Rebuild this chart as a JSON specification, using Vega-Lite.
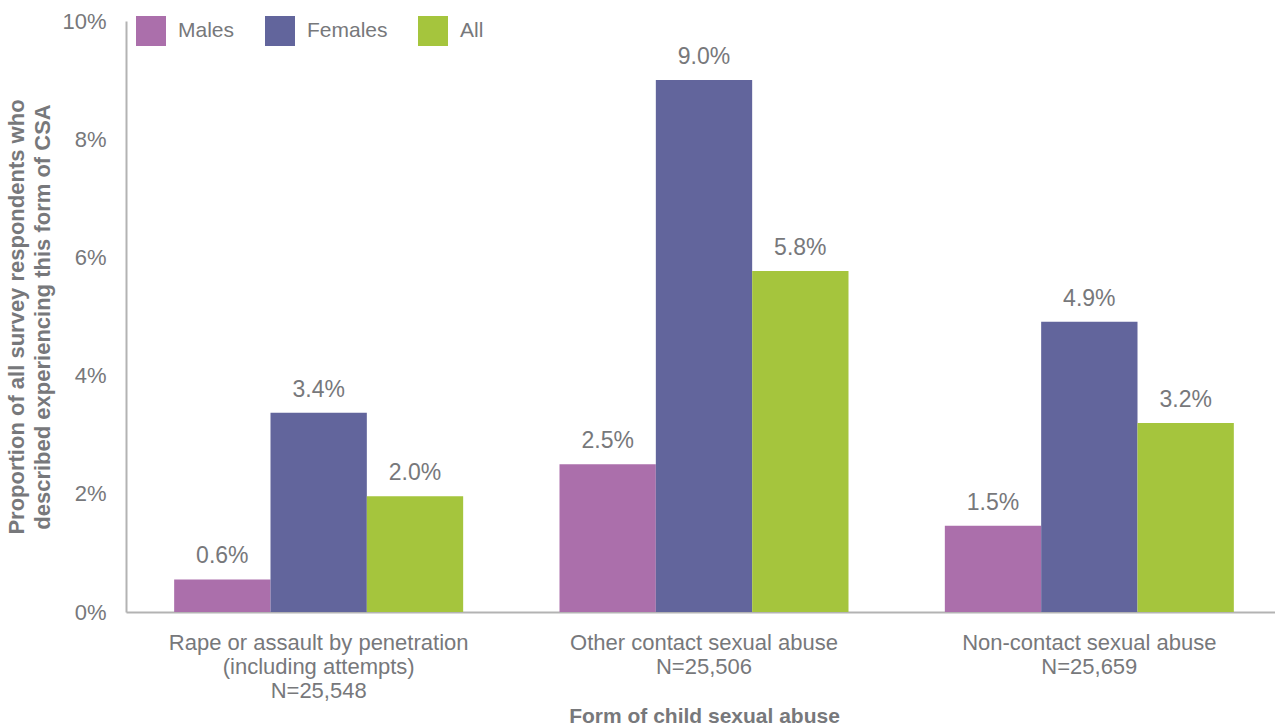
{
  "$schema": "https://vega.github.io/schema/vega-lite/v6.json",
  "width": 1149,
  "height": 591,
  "autosize": {"type": "none"},
  "padding": {"left": 126, "top": 21, "right": 0, "bottom": 116},
  "background": "white",
  "config": {
    "font": "Liberation Sans",
    "view": {"stroke": null}
  },
  "data": {
    "values": [
      {"form": "Rape or assault by penetration|(including attempts)|N=25,548", "group": "Males", "value": 0.55, "label": "0.6%"},
      {"form": "Rape or assault by penetration|(including attempts)|N=25,548", "group": "Females", "value": 3.37, "label": "3.4%"},
      {"form": "Rape or assault by penetration|(including attempts)|N=25,548", "group": "All", "value": 1.96, "label": "2.0%"},
      {"form": "Other contact sexual abuse|N=25,506", "group": "Males", "value": 2.5, "label": "2.5%"},
      {"form": "Other contact sexual abuse|N=25,506", "group": "Females", "value": 9.0, "label": "9.0%"},
      {"form": "Other contact sexual abuse|N=25,506", "group": "All", "value": 5.77, "label": "5.8%"},
      {"form": "Non-contact sexual abuse|N=25,659", "group": "Males", "value": 1.46, "label": "1.5%"},
      {"form": "Non-contact sexual abuse|N=25,659", "group": "Females", "value": 4.91, "label": "4.9%"},
      {"form": "Non-contact sexual abuse|N=25,659", "group": "All", "value": 3.2, "label": "3.2%"}
    ]
  },
  "encoding": {
    "x": {
      "field": "form",
      "type": "nominal",
      "sort": null,
      "scale": {"range": [0, 1156], "paddingInner": 0.25, "paddingOuter": 0.125},
      "axis": {
        "title": "Form of child sexual abuse",
        "titleFontSize": 21,
        "titleFontWeight": "bold",
        "titleColor": "#77787b",
        "titlePadding": 4,
        "labelExpr": "split(datum.label, '|')",
        "labelAngle": 0,
        "labelLimit": 0,
        "labelFontSize": 22,
        "labelColor": "#77787b",
        "labelLineHeight": 24,
        "labelPadding": 20,
        "ticks": false,
        "domainColor": "#b3b3b3",
        "domainWidth": 2,
        "grid": false
      }
    },
    "xOffset": {"field": "group", "type": "nominal", "sort": ["Males", "Females", "All"]},
    "y": {
      "field": "value",
      "type": "quantitative",
      "scale": {"domain": [0, 10]},
      "axis": {
        "title": ["Proportion of all survey respondents who", "described experiencing this form of CSA"],
        "titleFontSize": 22,
        "titleFontWeight": "bold",
        "titleColor": "#77787b",
        "titleLineHeight": 26,
        "titlePadding": 7,
        "values": [0, 2, 4, 6, 8, 10],
        "labelExpr": "datum.value + '%'",
        "labelFontSize": 22,
        "labelColor": "#77787b",
        "labelPadding": 20,
        "ticks": false,
        "grid": false,
        "domainColor": "#b3b3b3",
        "domainWidth": 2
      }
    }
  },
  "layer": [
    {
      "mark": {"type": "bar"},
      "encoding": {
        "color": {
          "field": "group",
          "type": "nominal",
          "sort": ["Males", "Females", "All"],
          "scale": {"domain": ["Males", "Females", "All"], "range": ["#ab6fab", "#62659c", "#a5c53d"]},
          "legend": {
            "title": null,
            "orient": "none",
            "legendX": 10,
            "legendY": -5,
            "direction": "horizontal",
            "symbolType": "square",
            "symbolSize": 900,
            "symbolStrokeWidth": 0,
            "symbolOpacity": 1,
            "labelFontSize": 21,
            "labelColor": "#77787b",
            "labelOffset": 12,
            "columnPadding": 30
          }
        }
      }
    },
    {
      "mark": {"type": "text", "dy": -23, "fontSize": 23, "color": "#77787b"},
      "encoding": {
        "text": {"field": "label"}
      }
    }
  ]
}
